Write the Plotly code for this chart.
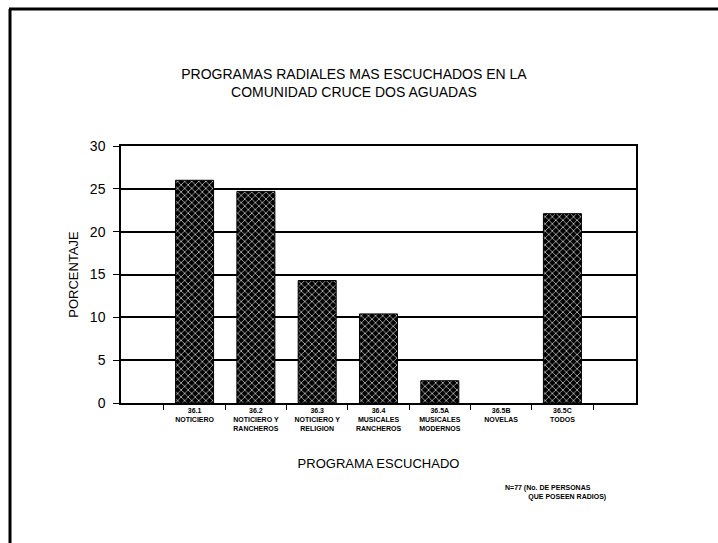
import plotly.graph_objects as go

categories = [
    "<b>36.1</b><br><b>NOTICIERO</b>",
    "<b>36.2</b><br><b>NOTICIERO Y</b><br><b>RANCHEROS</b>",
    "<b>36.3</b><br><b>NOTICIERO Y</b><br><b>RELIGION</b>",
    "<b>36.4</b><br><b>MUSICALES</b><br><b>RANCHEROS</b>",
    "<b>36.5A</b><br><b>MUSICALES</b><br><b>MODERNOS</b>",
    "<b>36.5B</b><br><b>NOVELAS</b>",
    "<b>36.5C</b><br><b>TODOS</b>",
]
porcentaje = [26.0, 24.7, 14.3, 10.4, 2.6, 0.0, 22.1]
y_ticks = [0, 5, 10, 15, 20, 25, 30]

fig = go.Figure()
fig.add_trace(go.Bar(
    x=categories,
    y=porcentaje,
    width=0.62,
    marker=dict(
        color="black",
        line=dict(color="black", width=[0 if v == 0 else 1 for v in porcentaje]),
        pattern=dict(shape="x", bgcolor="black", fgcolor="white", size=5, solidity=0.22, fillmode="replace"),
    ),
    showlegend=False,
))

FONT = "Liberation Sans"

fig.update_layout(
    width=718, height=543,
    margin=dict(l=121, r=82, t=146, b=140),
    paper_bgcolor="white", plot_bgcolor="white",
    font=dict(family=FONT, color="black"),
    title=dict(
        text="PROGRAMAS RADIALES MAS ESCUCHADOS EN LA<br>COMUNIDAD CRUCE DOS AGUADAS",
        x=354/718, xanchor="center", y=1 - 79/543, yanchor="middle",
        font=dict(family=FONT, size=14, color="black"),
    ),
    xaxis=dict(
        type="category",
        range=[-1.2, 7.2],
        showline=True, linecolor="black", linewidth=1.5, mirror=True,
        ticks="outside", tickson="boundaries", ticklen=5, tickcolor="black",
        showgrid=False,
        tickfont=dict(family="Liberation Sans Narrow, " + FONT, size=7, color="black"),
        title=dict(text="PROGRAMA ESCUCHADO", font=dict(family=FONT, size=13), standoff=28),
    ),
    yaxis=dict(
        range=[0, 30],
        tickvals=y_ticks,
        showline=True, linecolor="black", linewidth=1.5, mirror=True,
        ticks="outside", ticklen=6, tickcolor="black",
        ticklabelstandoff=5,
        showgrid=True, gridcolor="black", gridwidth=1.5,
        zeroline=False,
        tickfont=dict(family=FONT, size=14, color="black"),
        title=dict(text="PORCENTAJE", font=dict(family=FONT, size=13), standoff=8),
    ),
)

fig.add_annotation(
    text="<b>N=77 (No. DE PERSONAS</b><br><b>            QUE POSEEN RADIOS)</b>",
    xref="paper", yref="paper",
    x=(503 - 121) / 515, y=-(492 - 403) / 257,
    xanchor="left", yanchor="middle", align="left",
    showarrow=False,
    font=dict(family=FONT, size=7, color="black"),
)

# page border (top and left edges of the scanned frame)
pw, ph = 515, 257
fig.add_shape(type="line", xref="paper", yref="paper",
              x0=(9 - 121) / pw, x1=(718 - 121) / pw,
              y0=1 + (146 - 9) / ph, y1=1 + (146 - 9) / ph,
              line=dict(color="black", width=3))
fig.add_shape(type="line", xref="paper", yref="paper",
              x0=(10 - 121) / pw, x1=(10 - 121) / pw,
              y0=1 + (146 - 9) / ph, y1=-(543 - 403) / ph,
              line=dict(color="black", width=3))

fig.write_html(
    "out.html",
    config={"displayModeBar": False},
    post_script="document.body.style.margin='0';document.body.style.overflow='hidden';",
)
